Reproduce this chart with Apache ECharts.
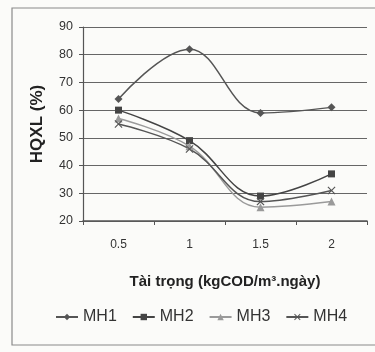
<!DOCTYPE html>
<html><head><meta charset="utf-8">
<script src="https://cdn.jsdelivr.net/npm/echarts@6/dist/echarts.min.js"></script>
<style>html,body{margin:0;padding:0;background:#fbfbf9;}#c{width:375px;height:352px;}</style>
</head><body><div id="c"></div>
<script>
const categories = ['0.5', '1', '1.5', '2'];
const mh1 = [64, 82, 59, 61];
const mh2 = [60, 49, 29, 37];
const mh3 = [57, 47, 25, 27];
const mh4 = [55, 46, 27, 31];
const seriesNames = ['MH1', 'MH2', 'MH3', 'MH4'];

const chart = echarts.init(document.getElementById('c'));
const font = 'Liberation Sans, Arial, sans-serif';
const xPath = 'path://M0,1L1,0L5,4L9,0L10,1L6,5L10,9L9,10L5,6L1,10L0,9L4,5Z';
function s(name, data, color, symbol, size) {
  return { name, type: 'line', data, smooth: 0.4, symbol, symbolSize: size,
    lineStyle: { color, width: 1.5 }, itemStyle: { color }, z: 3 };
}
chart.setOption({
  backgroundColor: '#fbfbf9',
  animation: false,
  graphic: [{ type: 'rect', shape: { x: 12, y: 8, width: 380, height: 337 },
    style: { fill: 'none', stroke: '#8a8a8a', lineWidth: 1.2 } }],
  grid: { left: 83, right: 8, top: 27, bottom: 131 },
  xAxis: { type: 'category', data: categories, boundaryGap: true,
    name: 'Tài trọng (kgCOD/m³.ngày)', nameLocation: 'middle', nameGap: 53,
    nameTextStyle: { fontFamily: font, fontSize: 15, fontWeight: 'bold', color: '#222' },
    axisLine: { lineStyle: { color: '#555', width: 1.5 } },
    axisTick: { show: true, alignWithLabel: false, length: 4, lineStyle: { color: '#555' } },
    axisLabel: { fontFamily: font, fontSize: 12, color: '#333', margin: 18 } },
  yAxis: { type: 'value', min: 20, max: 90, interval: 10,
    name: 'HQXL (%)', nameLocation: 'middle', nameGap: 37, nameRotate: 90,
    nameTextStyle: { fontFamily: font, fontSize: 17, fontWeight: 'bold', color: '#222' },
    axisLine: { show: true, lineStyle: { color: '#555', width: 1.2 } },
    axisTick: { show: true, length: 4, lineStyle: { color: '#555' } },
    splitLine: { lineStyle: { color: '#666', width: 1.2 } },
    axisLabel: { fontFamily: font, fontSize: 12.5, color: '#333', margin: 10 } },
  legend: { bottom: 22, left: 50, itemGap: 15, itemWidth: 22, itemHeight: 8,
    textStyle: { fontFamily: font, fontSize: 16, color: '#333' },
    data: seriesNames },
  series: [
    s(seriesNames[0], mh1, '#555555', 'diamond', 8),
    s(seriesNames[1], mh2, '#444444', 'rect', 7),
    s(seriesNames[2], mh3, '#9a9a9a', 'triangle', 8),
    s(seriesNames[3], mh4, '#555555', xPath, 8)
  ]
});
</script></body></html>
